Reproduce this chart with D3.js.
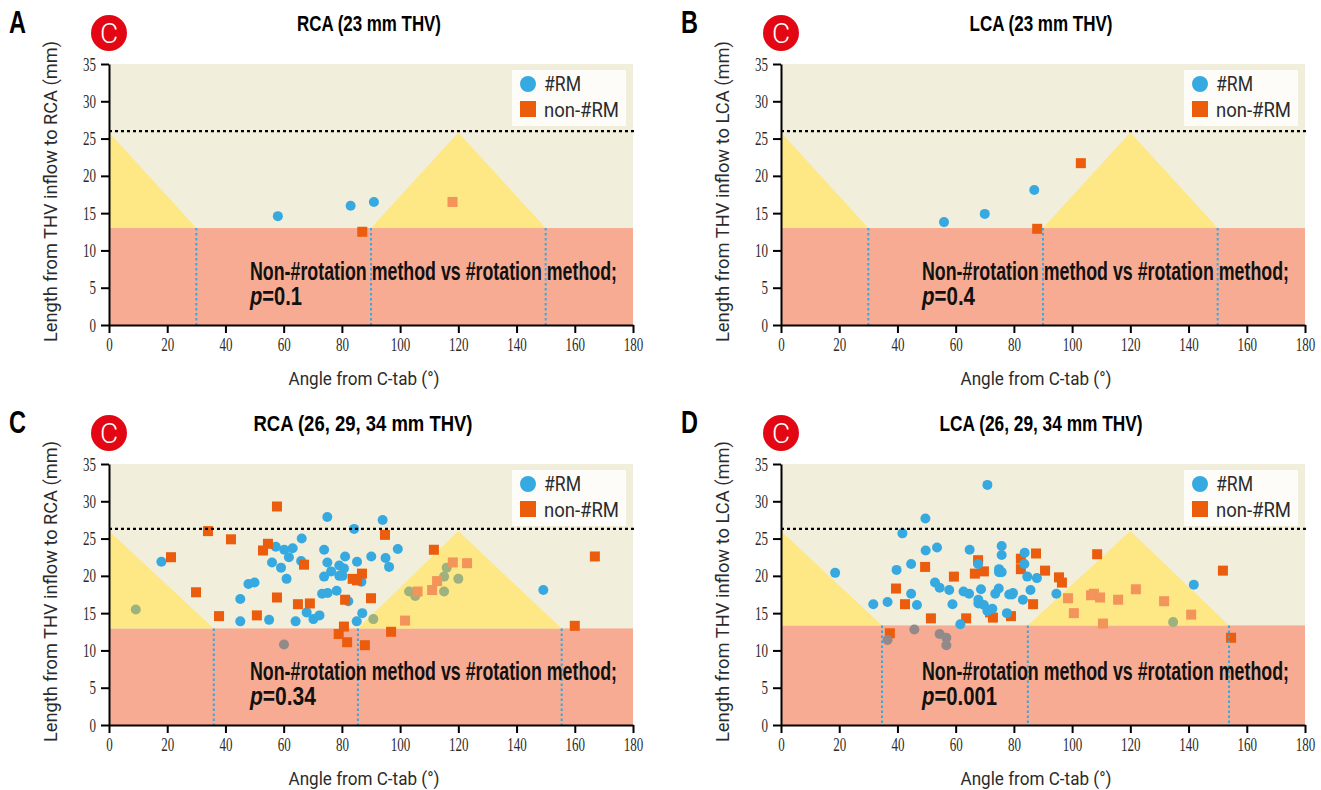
<!DOCTYPE html>
<html>
<head>
<meta charset="utf-8">
<script src="https://cdn.jsdelivr.net/npm/d3@7"></script>
<style>
  html, body { margin: 0; background: #fff; }
  svg { display: block; }
  text { font-family: "Liberation Sans Narrow", "Liberation Sans", sans-serif; fill: #2b2b2b; }
</style>
</head>
<body>
<svg id="chart" width="1321" height="790"></svg>
<script>
// values: [angle, length]
const aCircles = [[58,14.6],[83,16],[91,16.5]];
const aSquares = [[87,12.5],[118,16.5]];
const bCircles = [[56,13.8],[70,14.9],[87,18.1]];
const bSquares = [[88,12.9],[103,21.7]];
const cCircles = [
  [18,21.9],[9.2,15.5],[45.1,16.9],[45.1,13.9],[47.9,18.9],[50,19.1],[55,14.1],[56,21.8],[57.3,23.9],
  [59.1,21.1],[60.2,23.5],[60.1,10.8],[61,19.6],[61.8,22.5],[63.1,23.7],[64.1,13.9],[66,22],[66.2,25],
  [67.9,15.1],[70.2,14.2],[72.3,14.7],[73.2,17.6],[75.1,17.7],[73.9,19.9],[73.9,23.5],[75,27.9],[75,21.8],
  [76.3,20.6],[78.2,18],[79.1,21.4],[80.7,21],[79.1,20],[80.2,20],[81.1,22.6],[82.2,16.6],[84.2,26.3],
  [85.2,21.9],[86.7,19.2],[87,15],[85.1,13.9],[90.1,22.6],[94,27.5],[95,22.4],[99.2,23.6],[96.2,21.2],
  [149.2,18.1],[90.8,14.2],[103.1,17.9],[105.2,17.3],[115.1,19.9],[116,21.1],[120,19.6],[115.1,17.9]
];
const cSquares = [
  [21.3,22.5],[34,26],[29.9,17.8],[37.8,14.6],[41.9,24.9],[50.8,14.7],[52.9,23.4],[54.6,24.3],[57.7,29.3],
  [57.7,17.1],[64.9,16.2],[67,21.5],[69,16.3],[81.1,16.8],[78.9,12.2],[80.7,13.2],[81.8,11.1],[83.7,19.6],
  [85.2,19.4],[86.9,20.3],[87.9,10.7],[90,17],[94.8,25.5],[111.6,23.5],[166.9,22.6],[118.1,21.8],[123,21.7],
  [112.7,19.3],[111,18.1],[106,17.9],[101.7,14],[96.9,12.5],[160,13.3]
];
const dCircles = [
  [18.6,20.4],[31.7,16.2],[36.6,16.5],[36.6,11.4],[39.7,20.8],[41.7,25.7],[44.7,21.6],[44.7,17.6],[45.8,12.8],
  [46.7,16.1],[49.7,23.4],[49.6,27.7],[52.9,19.1],[53.6,23.8],[54.5,18.4],[54.5,12.2],[56.8,11.7],[56.8,10.7],
  [57.8,18.1],[58.9,16.2],[61.6,13.5],[62.7,17.9],[64.6,17.6],[64.8,23.5],[67.7,21.6],[67.8,16.8],[67.8,16.3],
  [68.7,18.2],[69.7,16.1],[70.9,15.3],[72.6,15.6],[70.9,32.2],[73.6,17.6],[74.8,18.3],[74.9,20.9],[74.9,20.5],
  [75.8,20.5],[75.8,22.8],[75.8,24],[77.6,15],[78.4,17.5],[79.7,17.7],[79.4,17.5],[83.1,16.8],[83.6,21.6],
  [83.7,23.1],[84.6,19.9],[85.7,18.1],[87.9,19.7],[94.6,17.6],[141.8,18.8],[134.7,13.8]
];
const dSquares = [
  [37.4,12.3],[39.5,18.3],[42.6,16.2],[49.5,21.2],[51.5,14.3],[59.4,19.9],[63.6,14.3],[66.6,20.3],[67.7,22.1],
  [69.7,20.6],[71.8,15.1],[72.8,14.4],[79,14.6],[82.4,22.3],[82.4,20.9],[86.6,16.2],[87.6,23],[90.7,20.7],
  [95.5,19.8],[96.5,19.1],[108.6,22.9],[98.6,17],[100.6,15],[106.5,17.4],[107.5,17.6],[109.6,17.1],[110.6,13.6],
  [115.8,16.8],[121.9,18.2],[131.6,16.6],[140.9,14.8],[151.8,20.7],[154.6,11.7]
];

const panelLetters = ["A", "B", "C", "D"];
const panelTitles = ["RCA (23 mm THV)", "LCA (23 mm THV)", "RCA (26, 29, 34 mm THV)", "LCA (26, 29, 34 mm THV)"];
const yLabels = ["Length from THV inflow to RCA (mm)", "Length from THV inflow to LCA (mm)",
                 "Length from THV inflow to RCA (mm)", "Length from THV inflow to LCA (mm)"];
const pValues = ["0.1", "0.4", "0.34", "0.001"];
const cutAngles = [[30,90,150], [30,90,150], [36,85.5,155.5], [34.7,84.8,153.9]];
const redLimits = [13, 13, 12.95, 13.35];
const dottedLimits = [26, 26, 26.3, 26.3];
const apexLengths = [25.8, 25.8, 26, 26];
const circleSets = [aCircles, bCircles, cCircles, dCircles];
const squareSets = [aSquares, bSquares, cSquares, dSquares];
const xTicks = d3.range(0, 181, 20);
const yTicks = d3.range(0, 36, 5);
const legendLabels = ["#RM", "non-#RM"];

const blue = "#36a9e1", orange = "#eb5c0c";
const width = 524, height = 261;
const titleWidths = [144, 143, 219, 203];
const titleCentres = [260, 260, 254, 260];
const pWidths = [52, 53, 66, 75];
const svg = d3.select("#chart");

const x = d3.scaleLinear().domain([0, 180]).range([0, width]);
const y = d3.scaleLinear().domain([0, 35]).range([height, 0]);

function drawPanel(i) {
  const g = svg.append("g")
      .attr("transform", `translate(${109 + (i % 2) * 672},${64 + (i > 1 ? 400 : 0)})`);
  const cuts = cutAngles[i], red = redLimits[i], apex = apexLengths[i];
  const tris = [
    [[0, apex], [cuts[0], red], [0, red]],
    [[cuts[1], red], [120, apex], [cuts[2], red]]
  ];

  // background zones
  g.append("rect").attr("width", width).attr("height", height).attr("fill", "#f2eedc");
  g.append("rect").attr("y", y(red)).attr("width", width).attr("height", y(0) - y(red)).attr("fill", "#f6ab92");
  g.selectAll(".tri").data(tris).join("path")
      .attr("class", "tri")
      .attr("fill", "#fee785")
      .attr("d", d => d3.line().x(p => x(p[0])).y(p => y(p[1]))(d) + "Z");

  // marks get muted where they sit under the yellow / red zones
  const inTri = d => tris.some(t => d3.polygonContains(t, d));
  const circleFill = d => inTri(d) ? "#9db27f" : d[1] < red ? "#928a8a" : blue;
  const squareFill = d => inTri(d) ? "#f3945a" : orange;

  const drawCircles = () => g.append("g").selectAll("circle").data(circleSets[i]).join("circle")
      .attr("cx", d => x(d[0])).attr("cy", d => y(d[1])).attr("r", 5)
      .attr("fill", circleFill);
  const drawSquares = () => g.append("g").selectAll("rect").data(squareSets[i]).join("rect")
      .attr("x", d => x(d[0]) - 5).attr("y", d => y(d[1]) - 5).attr("width", 10).attr("height", 10)
      .attr("fill", squareFill);
  if (i === 3) { drawSquares(); drawCircles(); } else { drawCircles(); drawSquares(); }

  // blue dotted drops
  g.selectAll(".drop").data(cuts).join("line")
      .attr("class", "drop")
      .attr("x1", d => x(d)).attr("x2", d => x(d))
      .attr("y1", y(red)).attr("y2", y(0))
      .attr("stroke", blue).attr("stroke-width", 2).attr("stroke-dasharray", "2.5,2.5");

  g.append("line")
      .attr("x1", 0).attr("x2", width + 1)
      .attr("y1", y(dottedLimits[i])).attr("y2", y(dottedLimits[i]))
      .attr("stroke", "#000").attr("stroke-width", 2.2).attr("stroke-dasharray", "3,3");

  // legend
  const legend = g.append("g").attr("transform", `translate(${x(180) - 121},6)`);
  legend.append("rect").attr("width", 114).attr("height", 56).attr("fill", "#fdfcf8");
  legend.append("circle").attr("cx", 16).attr("cy", 14).attr("r", 8).attr("fill", blue);
  legend.append("rect").attr("x", 8).attr("y", 31).attr("width", 16).attr("height", 16).attr("fill", orange);
  legend.selectAll("text").data(legendLabels).join("text")
      .attr("x", 32)
      .attr("y", (d, k) => 21 + k * 26)
      .style("font-family", "Roboto")
      .style("font-size", "20px")
      .attr("textLength", (d, k) => k ? 75 : 37)
      .attr("lengthAdjust", "spacingAndGlyphs")
      .text(d => d);

  // axes
  const xAxis = d3.axisBottom(x).tickValues(xTicks).tickSize(8).tickSizeOuter(0).tickPadding(5);
  const yAxis = d3.axisLeft(y).tickValues(yTicks).tickSize(8).tickSizeOuter(0).tickPadding(5);
  [g.append("g").attr("transform", `translate(0,${height})`).call(xAxis),
   g.append("g").call(yAxis)].forEach(a => {
    a.selectAll("path, line").attr("stroke", "#000").attr("stroke-width", 2);
    a.selectAll("text").style("font-size", "19px").style("font-family", "Liberation Sans Narrow")
      .attr("fill", "#333").attr("lengthAdjust", "spacingAndGlyphs")
      .attr("textLength", function() { return this.textContent.length * 6.5; });
  });

  // annotation
  const note = g.append("g").style("font-weight", "bold").style("font-size", "25px");
  note.append("text").attr("x", 141).attr("y", 216)
      .attr("textLength", 367).attr("lengthAdjust", "spacingAndGlyphs")
      .style("fill", "#111")
      .text("Non-#rotation method vs #rotation method;");
  const pLine = note.append("text").attr("x", 141).attr("y", 241).style("fill", "#111")
      .attr("textLength", pWidths[i]).attr("lengthAdjust", "spacingAndGlyphs");
  pLine.append("tspan").style("font-style", "italic").text("p");
  pLine.append("tspan").text("=" + pValues[i]);

  // labels
  g.append("text").attr("x", width / 2 - 7).attr("y", 321)
      .attr("text-anchor", "middle").style("font-family", "Roboto").style("font-size", "19px")
      .attr("textLength", 151).attr("lengthAdjust", "spacingAndGlyphs")
      .text("Angle from C-tab (°)");
  g.append("text").attr("transform", `translate(-52,${height / 2 - 3}) rotate(-90)`)
      .attr("text-anchor", "middle").style("font-family", "Roboto").style("font-size", "19px")
      .attr("textLength", 301).attr("lengthAdjust", "spacingAndGlyphs")
      .text(yLabels[i]);

  g.append("text").attr("x", -100).attr("y", -31)
      .style("font-weight", "bold").style("font-size", "31px").style("fill", "#000")
      .attr("textLength", 17).attr("lengthAdjust", "spacingAndGlyphs")
      .text(panelLetters[i]);
  g.append("text").attr("x", titleCentres[i]).attr("y", -33)
      .attr("text-anchor", "middle").style("font-weight", "bold").style("font-size", "22px").style("fill", "#000")
      .attr("textLength", titleWidths[i]).attr("lengthAdjust", "spacingAndGlyphs")
      .text(panelTitles[i]);

  // red C badge
  g.append("circle").attr("cx", 0).attr("cy", -31).attr("r", 18).attr("fill", "#e30613");
  g.append("text").attr("x", 0).attr("y", -21).attr("text-anchor", "middle")
      .style("font-family", "Roboto").style("font-weight", "300").style("font-size", "28px").style("fill", "#fff")
      .text("C");
}

panelLetters.forEach((d, i) => drawPanel(i));
</script>
</body>
</html>
